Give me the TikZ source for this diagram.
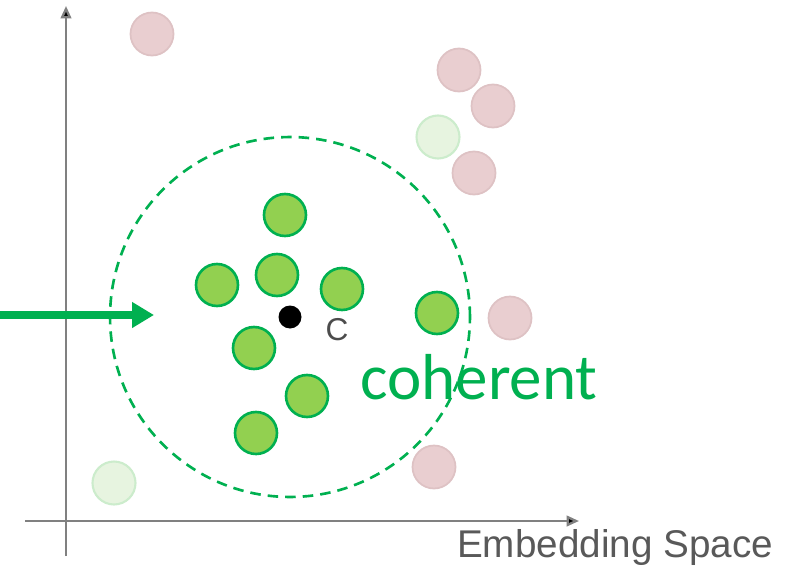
\documentclass[tikz,border=0pt]{standalone}
\usepackage{fontspec}
\setmainfont{Liberation Sans}
\newfontfamily\bodyfont{Carlito}
\usetikzlibrary{arrows.meta}
\definecolor{leafgreen}{RGB}{146,208,80}
\definecolor{rimgreen}{RGB}{0,176,80}
\definecolor{palepink}{RGB}{233,206,208}
\definecolor{pinkrim}{RGB}{222,194,196}
\definecolor{palegreen}{RGB}{231,244,224}
\definecolor{palerim}{RGB}{204,236,204}
\begin{document}
\begin{tikzpicture}[x=0.02cm,y=-0.02cm,
  inpt/.style={circle,draw=rimgreen,fill=leafgreen,line width=1.5pt,minimum size=0.84cm,inner sep=0pt},
  outpt/.style={circle,draw=pinkrim,fill=palepink,line width=1pt,minimum size=0.86cm,inner sep=0pt},
  farpt/.style={circle,draw=palerim,fill=palegreen,line width=1.2pt,minimum size=0.86cm,inner sep=0pt},
  axis/.style={draw=black!50,line width=1.3pt,-{Triangle[length=7pt,width=6pt,fill=black]}}]
\useasboundingbox (0,0) rectangle (808,568);

% axes
\coordinate (orig) at (66,521);
\coordinate (ytop) at (66,6);
\coordinate (ybot) at (66,556);
\coordinate (xleft) at (25,521);
\coordinate (xright) at (579,521);
\draw[axis] (ybot) -- (ytop);
\draw[axis] (xleft) -- (xright);
\node[text=black!65,font=\fontsize{22}{24}\selectfont] (space) at (615,547) {Embedding Space};

% cluster boundary and centre
\node[circle,draw=rimgreen,line width=1.5pt,dash pattern=on 6pt off 4pt,minimum size=7.2cm,inner sep=0pt] (cluster) at (290,317) {};
\node[circle,fill=black,minimum size=0.46cm,inner sep=0pt] (c) at (290,317) {};
\node[text=black!70,font=\fontsize{18}{20}\selectfont] (clab) at (337,330) {C};

% points inside
\foreach \n/\pos in {a/{(285,215)}, b/{(217,285)}, d/{(277,275)}, e/{(342,289)},
                     f/{(254,348)}, g/{(307,396)}, h/{(256,433)}, k/{(437,313)}} {
  \node[inpt] (in-\n) at \pos {};
}

% points outside
\foreach \n/\pos in {a/{(152,34)}, b/{(459,70)}, d/{(493,106)}, e/{(474,173)},
                     f/{(510,318)}, g/{(434,467)}} {
  \node[outpt] (out-\n) at \pos {};
}
\node[farpt] (far-a) at (438,137) {};
\node[farpt] (far-b) at (114,483) {};

% pointer and label
\coordinate (src) at (0,315);
\coordinate (dst) at (154,315);
\draw[rimgreen,line width=4.2pt,-{Triangle[length=12.5pt,width=14pt]}] (src) -- (dst);
\node[text=rimgreen,font=\bodyfont\fontsize{37}{40}\selectfont] (coh) at (479,377) {coherent};
\end{tikzpicture}
\end{document}
